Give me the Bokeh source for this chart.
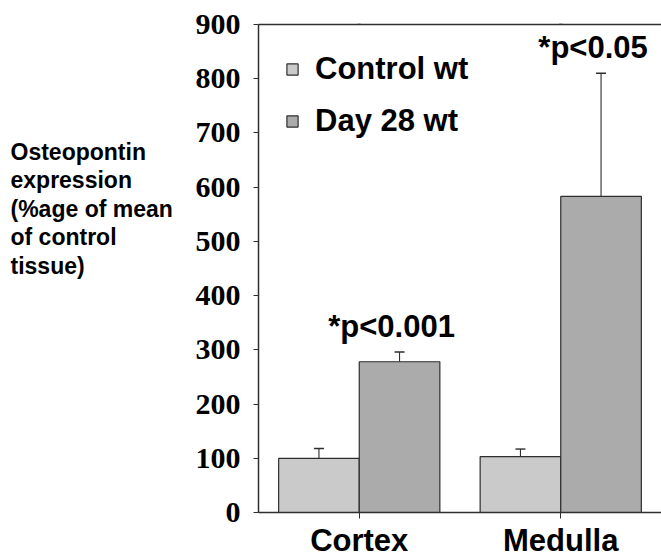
from bokeh.plotting import figure
from bokeh.layouts import row
from bokeh.models import (ColumnDataSource, FactorRange, Range1d, Whisker, TeeHead,
                          CategoricalAxis, FixedTicker)
from bokeh.transform import dodge
from bokeh.core.properties import value
from bokeh.embed import file_html
from bokeh.resources import INLINE

# ---- data ----
categories = ["Cortex", "Medulla"]
control_wt = [100, 103]
control_upper = [118, 117]
day28_wt = [278, 583]
day28_upper = [296, 810]
significance = ["*p<0.001", "*p<0.05"]
series_names = ["Control wt", "Day 28 wt"]
y_ticks = [0, 100, 200, 300, 400, 500, 600, 700, 800, 900]
y_title_lines = ["Osteopontin", "expression", "(%age of mean", "of control", "tissue)"]

LIGHT = "#cacaca"
DARK = "#ababab"
EDGE = "#2e2e2e"
SANS = "Liberation Sans"
SERIF = "Liberation Serif"

TOP, FH, BOT = 24, 488, 44   # frame top border, frame height, bottom border (px)

# ---- left panel carrying the y-axis title (its data units are page pixels) ----
TW = 190
t = figure(frame_width=TW, frame_height=FH, x_range=Range1d(0, TW),
           y_range=Range1d(TOP + FH, TOP),
           min_border_left=0, min_border_right=0, min_border_top=TOP, min_border_bottom=BOT,
           output_backend="svg", toolbar_location=None, tools="")
t.axis.visible = False
t.grid.visible = False
t.outline_line_color = None
t.text(x=[10] * len(y_title_lines), y=[151 + 28.5 * i for i in range(len(y_title_lines))],
       text=y_title_lines, text_align="left", text_baseline="alphabetic",
       text_font=value(SANS), text_font_style="bold", text_font_size="23px", text_color="black")

# ---- main chart ----
src = ColumnDataSource(dict(cat=categories, control=control_wt, control_upper=control_upper,
                            day28=day28_wt, day28_upper=day28_upper, sig=significance))

p = figure(x_range=FactorRange(*categories), y_range=Range1d(0, 900),
           frame_width=403, frame_height=FH,
           min_border_left=68, min_border_right=0, min_border_top=TOP, min_border_bottom=BOT,
           output_backend="svg", toolbar_location=None, tools="")
p.x_range.range_padding = 0
p.outline_line_color = None
p.xgrid.grid_line_color = None
p.ygrid.grid_line_color = None

p.vbar(x=dodge("cat", -0.2, range=p.x_range), top="control", width=0.4, source=src,
       fill_color=LIGHT, line_color=EDGE, line_width=1.2, legend_label=series_names[0])
p.vbar(x=dodge("cat", 0.2, range=p.x_range), top="day28", width=0.4, source=src,
       fill_color=DARK, line_color=EDGE, line_width=1.2, legend_label=series_names[1])

for off, lo, hi in [(-0.2, "control", "control_upper"), (0.2, "day28", "day28_upper")]:
    w = Whisker(source=src, base=dodge("cat", off, range=p.x_range), lower=lo, upper=hi,
                dimension="height", line_color=EDGE, line_width=1.1,
                upper_head=TeeHead(size=10, line_color=EDGE, line_width=1.4), lower_head=None)
    p.add_layout(w)

p.text(x=dodge("cat", 0.2, range=p.x_range), y="day28_upper", text="sig", source=src,
       x_offset=-8, y_offset=-26, text_align="center", text_baseline="alphabetic",
       text_font=value(SANS), text_font_style="bold", text_font_size="31px", text_color="black")

# axes
xa = p.xaxis[0]
xa.axis_line_color = EDGE
xa.axis_line_width = 1.5
xa.major_tick_out = 6
xa.major_tick_in = 0
xa.major_tick_line_color = EDGE
xa.major_label_standoff = 4
xa.major_label_text_font = SANS
xa.major_label_text_font_style = "bold"
xa.major_label_text_font_size = "31px"
xa.major_label_text_color = "black"

ya = p.yaxis[0]
ya.ticker = FixedTicker(ticks=y_ticks)
ya.axis_line_color = EDGE
ya.axis_line_width = 1.5
ya.major_tick_out = 5
ya.major_tick_in = 0
ya.minor_tick_out = 0
ya.minor_tick_in = 0
ya.major_tick_line_color = EDGE
ya.major_label_standoff = 13
ya.major_label_text_font = SERIF
ya.major_label_text_font_style = "bold"
ya.major_label_text_font_size = "30px"
ya.major_label_text_color = "black"

# top rule (no ticks, no labels)
top = CategoricalAxis(axis_line_color=EDGE, axis_line_width=1.5, major_tick_out=0, major_tick_in=0,
                      major_label_overrides={c: "" for c in categories},
                      major_label_text_font_size="1px", major_label_standoff=0)
p.add_layout(top, "above")

lg = p.legend[0]
lg.location = "top_left"
lg.margin = 27
lg.padding = 0
lg.spacing = 16
lg.glyph_width = 14
lg.glyph_height = 14
lg.label_standoff = 16
lg.label_text_font = SANS
lg.label_text_font_style = "bold"
lg.label_text_font_size = "31px"
lg.label_text_color = "black"
lg.background_fill_alpha = 0
lg.border_line_alpha = 0

layout = row(t, p, spacing=0)
open("out.html", "w").write(file_html(layout, INLINE))
